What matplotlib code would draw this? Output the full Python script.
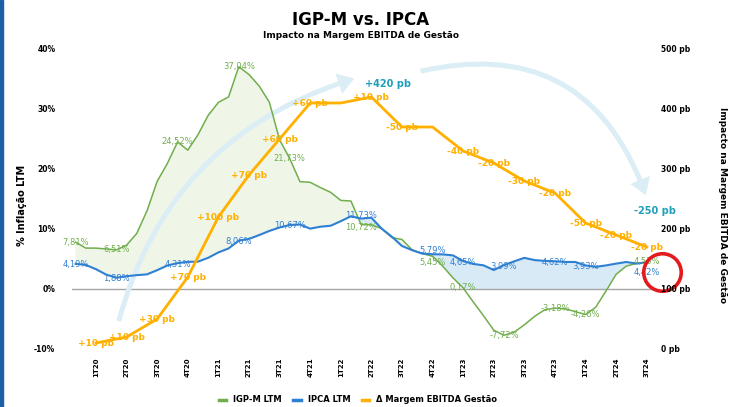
import numpy as np
import matplotlib.pyplot as plt
import matplotlib.transforms as mtransforms
from matplotlib.patches import FancyArrowPatch, Rectangle
from matplotlib.lines import Line2D

# quarterly categories (x axis)
quarters = ['1T20', '2T20', '3T20', '4T20', '1T21', '2T21', '3T21', '4T21',
            '1T22', '2T22', '3T22', '4T22', '1T23', '2T23', '3T23', '4T23',
            '1T24', '2T24', '3T24']

# monthly 12m inflation, Jan/2020 .. Sep/2024
igpm = [7.81, 6.82, 6.81, 6.68, 6.51, 7.31, 9.27, 13.02, 17.94, 20.93, 24.52, 23.14,
        25.71, 28.94, 31.10, 32.02, 37.04, 35.75, 33.83, 31.12, 24.86, 21.73, 17.89, 17.78,
        16.91, 16.12, 14.77, 14.66, 10.72, 10.70, 10.08, 8.59, 8.25, 6.52, 5.90, 5.45,
        3.79, 1.86, 0.17, -2.17, -4.47, -6.86, -7.72, -7.20, -5.97, -4.57, -3.46, -3.18,
        -3.32, -3.76, -4.26, -3.04, -0.34, 2.45, 3.82, 4.26, 4.53]
ipca = [4.19, 4.01, 3.30, 2.40, 1.88, 2.13, 2.31, 2.44, 3.14, 3.92, 4.31, 4.52,
        4.56, 5.20, 6.10, 6.76, 8.06, 8.35, 8.99, 9.68, 10.25, 10.67, 10.74, 10.06,
        10.38, 10.54, 11.30, 12.13, 11.73, 11.89, 10.07, 8.73, 7.17, 6.47, 5.90, 5.79,
        5.77, 5.60, 4.65, 4.18, 3.94, 3.16, 3.99, 4.61, 5.19, 4.82, 4.68, 4.62,
        4.51, 4.50, 3.93, 3.69, 3.93, 4.23, 4.50, 4.24, 4.42]
# months that carry a data label
label_months = [0, 4, 10, 16, 21, 28, 35, 38, 42, 47, 50, 56]

# quarterly change in EBITDA margin (pb)
margem_delta = [10, 10, 30, 70, 100, 70, 60, 60, 0, 10, -50, 0, -40, -20, -30, -20, -50, -20, -20]

GREEN = '#70ae4c'
BLUE = '#2f7fd3'
ORANGE = '#ffb000'
TEAL = '#1f9fba'

# Mar/2020 sits on the 1T20 tick, each month is a third of a quarter
xm = (np.arange(len(ipca)) - 2) / 3
igpm = np.array(igpm)
ipca = np.array(ipca)
margem = np.cumsum(margem_delta)
xq = np.arange(len(quarters))

fig = plt.figure(figsize=(7.32, 4.07), dpi=100)
ax = fig.add_axes([72/732, 1-349/407, 583/732, 300/407])
ax.set_xlim(-0.784, 18.27)
ax.set_ylim(-10, 40)
ax2 = ax.twinx()
ax2.set_ylim(0, 500)

fig.patches.append(Rectangle((0, 0), 2.5/732, 1, transform=fig.transFigure,
                             color='#1d5fa6', zorder=0))

#shaded areas between the two inflation curves
ax.fill_between(xm, ipca, igpm, where=igpm > ipca, interpolate=True,
                color='#eff6e8', lw=0, zorder=1)
lower = np.maximum(igpm, 0)
ax.fill_between(xm, lower, ipca, where=ipca > lower, interpolate=True,
                color='#d9eaf7', lw=0, zorder=1)
ax.axhline(0, color='#a6a6a6', lw=1.0, zorder=2)

#decorative curved arrows
for start, end, rad in [((0.72, -5.8), (8.53, 35.2), -0.28),
                        ((10.52, 36.2), (18.0, 15.2), -0.45)]:
    arr = FancyArrowPatch(start, end, connectionstyle=f'arc3,rad={rad}',
                          arrowstyle='simple,tail_width=0.4,head_width=1.7,head_length=1.3',
                          mutation_scale=9, color='#dbeef5', lw=0, zorder=2)
    ax.add_patch(arr)

ax.plot(xm, igpm, color=GREEN, lw=1.1, zorder=3)
ax.plot(xm, ipca, color=BLUE, lw=1.5, zorder=3)

def fmt_pct(v):
    return f'{v:.2f}%'.replace('.', ',')

#small vertical nudges (pixels) where the two labels collide
green_dy = {28: -3, 35: -6}
blue_dy = {28: 3, 35: 4, 56: -10}
for m in label_months:
    ax.annotate(fmt_pct(igpm[m]), (xm[m], igpm[m]), xytext=(0, green_dy.get(m, 0)),
                textcoords='offset pixels', ha='center', va='center', fontsize=6,
                color=GREEN, zorder=5)
    ax.annotate(fmt_pct(ipca[m]), (xm[m], ipca[m]), xytext=(0, blue_dy.get(m, -1)),
                textcoords='offset pixels', ha='center', va='center', fontsize=6,
                color=BLUE, zorder=5)

ax2.plot(xq, margem, color=ORANGE, lw=2.0, zorder=3)
for i, d in enumerate(margem_delta):
    if d != 0:
        ax2.annotate(f'{d:+d} pb', (xq[i], margem[i]), xytext=(0, -1), textcoords='offset pixels',
                     ha='center', va='center', fontsize=6.5, fontweight='bold', color=ORANGE)

imax = int(np.argmax(margem))
ax2.annotate(f'+{margem[imax]} pb', (xq[imax], margem[imax]), xytext=(17, 13),
             textcoords='offset pixels', ha='center', va='center',
             fontsize=7, fontweight='bold', color=TEAL)
ax2.annotate(f'{margem[-1] - margem[imax]} pb', (xq[-1], margem[-1]), xytext=(8, 36),
             textcoords='offset pixels', ha='center', va='center',
             fontsize=7, fontweight='bold', color=TEAL)

# red circle round the last reading
ax.plot([xm[-1]], [ipca[-1]], marker='o', ms=27, mfc='none', mec='#e31b1f', mew=2.6, clip_on=False,
        transform=ax.transData + mtransforms.ScaledTranslation(0.15, -0.095, fig.dpi_scale_trans),
        zorder=6)

for a in (ax, ax2):
    for s in a.spines.values():
        s.set_visible(False)

ax.set_xticks(xq)
ax.set_xticklabels(quarters, rotation=90, fontsize=5, fontweight='bold')
ax.tick_params(axis='x', length=0, pad=6)
ax.set_yticks(np.arange(-10, 41, 10))
ax.set_yticklabels([f'{v}%' for v in range(-10, 41, 10)], fontsize=5.5, fontweight='bold')
ax.tick_params(axis='y', length=0, pad=12)
ax2.set_yticks(np.arange(0, 501, 100))
ax2.set_yticklabels([f'{v} pb' for v in range(0, 501, 100)], fontsize=5.5, fontweight='bold')
ax2.tick_params(axis='y', length=0, pad=4)

fig.text(22/732, 1-205/407, '% Inflação LTM', rotation=90, ha='center', va='center',
         fontsize=7, fontweight='bold')
fig.text(722/732, 1-205/407, 'Impacto na Margem EBITDA de Gestão', rotation=-90,
         ha='center', va='center', fontsize=6.5, fontweight='bold')

fig.text(361/732, 1-20/407, 'IGP-M vs. IPCA', ha='center', va='center',
         fontsize=12, fontweight='bold')
fig.text(361/732, 1-35/407, 'Impacto na Margem EBITDA de Gestão', ha='center', va='center',
         fontsize=6.5, fontweight='bold')

handles = [Line2D([], [], color=GREEN, lw=2.5), Line2D([], [], color=BLUE, lw=2.5),
           Line2D([], [], color=ORANGE, lw=2.5)]
fig.legend(handles, ['IGP-M LTM', 'IPCA LTM', 'Δ Margem EBITDA Gestão'], loc='center',
           bbox_to_anchor=(358/732, 1-400/407), ncol=3, frameon=False,
           prop={'size': 6, 'weight': 'bold'}, handlelength=0.9, handletextpad=0.8,
           columnspacing=1.4)

fig.savefig('out.png', dpi=100)
